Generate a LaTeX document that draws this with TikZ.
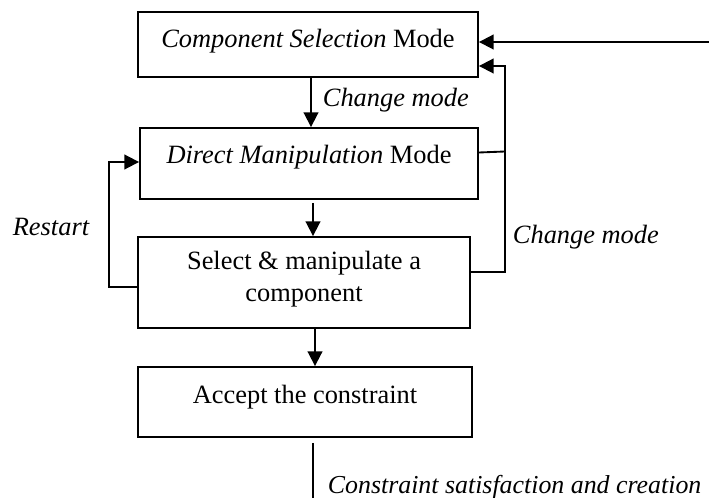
\documentclass[tikz,border=0pt]{standalone}
\usepackage{fontspec}
\setmainfont{Liberation Serif}
\usetikzlibrary{arrows.meta,calc}
\begin{document}
\begin{tikzpicture}[x=0.75pt,y=-0.75pt,line width=1.4pt,
  boxnode/.style 2 args={draw,inner sep=0pt,minimum width=#1*0.75pt,minimum height=#2*0.75pt},
  txt/.style={font=\fontsize{19.8}{24}\selectfont,inner sep=0pt,align=center},
  lab/.style={font=\fontsize{19.8}{24}\selectfont\itshape,inner sep=0pt},
  arr/.style={-{Triangle[length=11pt,width=11pt]}}]
\useasboundingbox (0,0) rectangle (709,498);

% boxes
\node[boxnode={340}{65}] (b1) at (308,44.5) {};
\node[boxnode={338}{71}] (b2) at (309,163.5) {};
\node[boxnode={332}{91}] (b3) at (304,282.5) {};
\node[boxnode={334}{70}] (b4) at (305,402) {};

% box texts
\node[txt] (t1) at (308,41) {\textit{Component Selection} Mode};
\node[txt] (t2) at (309,157) {\textit{Direct Manipulation} Mode};
\node[txt] (t3) at (304,279) {Select \& manipulate a\\component};
\node[txt] (t4) at (305,397) {Accept the constraint};

% main flow
\draw[arr] ($(b1.south)+(3,0)$) -- ($(b2.north)+(2,0)$);
\node[lab,anchor=west] (lcm1) at (322,100) {Change mode};
\draw[arr] ($(b2.south)+(4,3)$) -- ($(b3.north)+(9,0)$);
\draw[arr] ($(b3.south)+(11,0)$) -- ($(b4.north)+(10,0)$);
\coordinate (out) at (313,498);
\draw ($(b4.south)+(8,5)$) -- (out);
\node[lab,anchor=west,font=\fontsize{19.4}{24}\selectfont\itshape] (lcs) at (327,487) {Constraint satisfaction and creation};

% restart loop
\draw[arr] ($(b3.west)+(0,4.5)$) -- ++(-28,0) |- ($(b2.west)+(0,-1.5)$);
\node[lab] (lrs) at (51,227) {Restart};

% change-mode loop back to the selection mode
\draw ($(b2.east)+(0,-11)$) -- ($(b2.east)+(26,-12)$);
\draw[arr] ($(b3.east)+(0,-10.5)$) -| ($(b1.east)+(26,21.5)$) -- ($(b1.east)+(0,21.5)$);
\node[lab,anchor=west] (lcm2) at (512,237) {Change mode};

% incoming arrow from the right
\coordinate (inR) at (709,42);
\draw[arr] (inR) -- ($(b1.east)+(0,-2.5)$);
\end{tikzpicture}
\end{document}
